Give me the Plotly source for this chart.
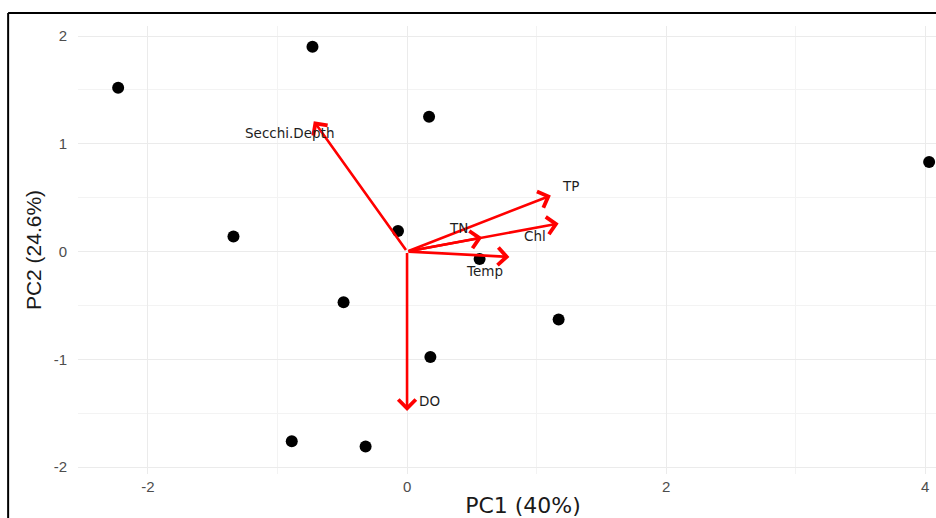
import plotly.graph_objects as go

# Sample scores
pc1_scores = [-2.23, -0.73, 0.17, 4.03, -1.34, -0.07, 0.56, -0.49, 1.17, 0.18, -0.89, -0.32]
pc2_scores = [1.52, 1.90, 1.25, 0.83, 0.14, 0.19, -0.07, -0.47, -0.63, -0.98, -1.76, -1.81]

# Variable loadings (arrow tips)
var_names = ["Secchi.Depth", "TP", "Chl", "TN", "Temp", "DO"]
load_pc1 = [-0.72, 1.11, 1.17, 0.58, 0.79, 0.0]
load_pc2 = [1.21, 0.52, 0.26, 0.13, -0.05, -1.48]
# label positions
label_pc1 = [-0.91, 1.26, 0.99, 0.40, 0.60, 0.17]
label_pc2 = [1.10, 0.61, 0.14, 0.22, -0.18, -1.39]

x_ticks = [-2, 0, 2, 4]
y_ticks = [-2, -1, 0, 1, 2]

FONT = "Arial, Liberation Sans, sans-serif"
WIDE = "DejaVu Sans, Verdana, sans-serif"

fig = go.Figure()
fig.add_trace(go.Scatter(
    x=pc1_scores, y=pc2_scores, mode="markers",
    marker=dict(color="black", size=12),
    cliponaxis=False, showlegend=False, hoverinfo="skip"))

annotations = []
for name, lx, ly, tx, ty in zip(var_names, load_pc1, load_pc2, label_pc1, label_pc2):
    annotations.append(dict(
        x=lx, y=ly, ax=0, ay=0, xref="x", yref="y", axref="x", ayref="y",
        text="", showarrow=True, arrowhead=4, arrowsize=1.3, arrowwidth=2.6,
        arrowcolor="#FF0000", standoff=0, startstandoff=0))
    annotations.append(dict(
        x=tx, y=ty, xref="x", yref="y", text=name, showarrow=False,
        font=dict(family=WIDE, size=13.5, color="#1e1e1e")))

grid_major = "#EBEBEB"
grid_minor = "#F3F3F3"

# The original chart is cropped on the right; the figure is wider than the window.
fig.update_layout(
    width=968, height=518,
    margin=dict(l=78, r=0, t=26, b=44),
    plot_bgcolor="white", paper_bgcolor="white",
    font=dict(family=FONT, color="#4D4D4D"),
    annotations=annotations,
    xaxis=dict(
        range=[-2.54, 4.33], tickvals=x_ticks, ticktext=[str(v) for v in x_ticks],
        showgrid=True, gridcolor=grid_major, gridwidth=1.2, zeroline=False,
        minor=dict(dtick=1, tick0=0, showgrid=True, gridcolor=grid_minor, gridwidth=1),
        tickfont=dict(size=15, color="#4D4D4D"), ticklabelstandoff=2,
        title=dict(text="PC1 (40%)", font=dict(family=WIDE, size=22, color="#1a1a1a"), standoff=3),
        showline=False),
    yaxis=dict(
        range=[-2.065, 2.093], tickvals=y_ticks, ticktext=[str(v) for v in y_ticks],
        showgrid=True, gridcolor=grid_major, gridwidth=1.2, zeroline=False,
        minor=dict(dtick=0.5, tick0=0, showgrid=True, gridcolor=grid_minor, gridwidth=1),
        tickfont=dict(size=15, color="#4D4D4D"), ticklabelstandoff=10,
        title=dict(text="PC2 (24.6%)", font=dict(size=21, color="#1a1a1a"), standoff=6),
        showline=False),
    shapes=[
        dict(type="line", xref="paper", yref="paper", x0=-0.0785, x1=1.01, y0=1.029, y1=1.029,
             line=dict(color="black", width=2)),
        dict(type="line", xref="paper", yref="paper", x0=-0.0785, x1=-0.0785, y0=1.029, y1=-0.11,
             line=dict(color="black", width=2)),
    ],
)

fig.write_html(
    "out.html",
    config={"displayModeBar": False},
    post_script="document.body.style.margin='0';document.body.style.overflow='hidden';",
)
